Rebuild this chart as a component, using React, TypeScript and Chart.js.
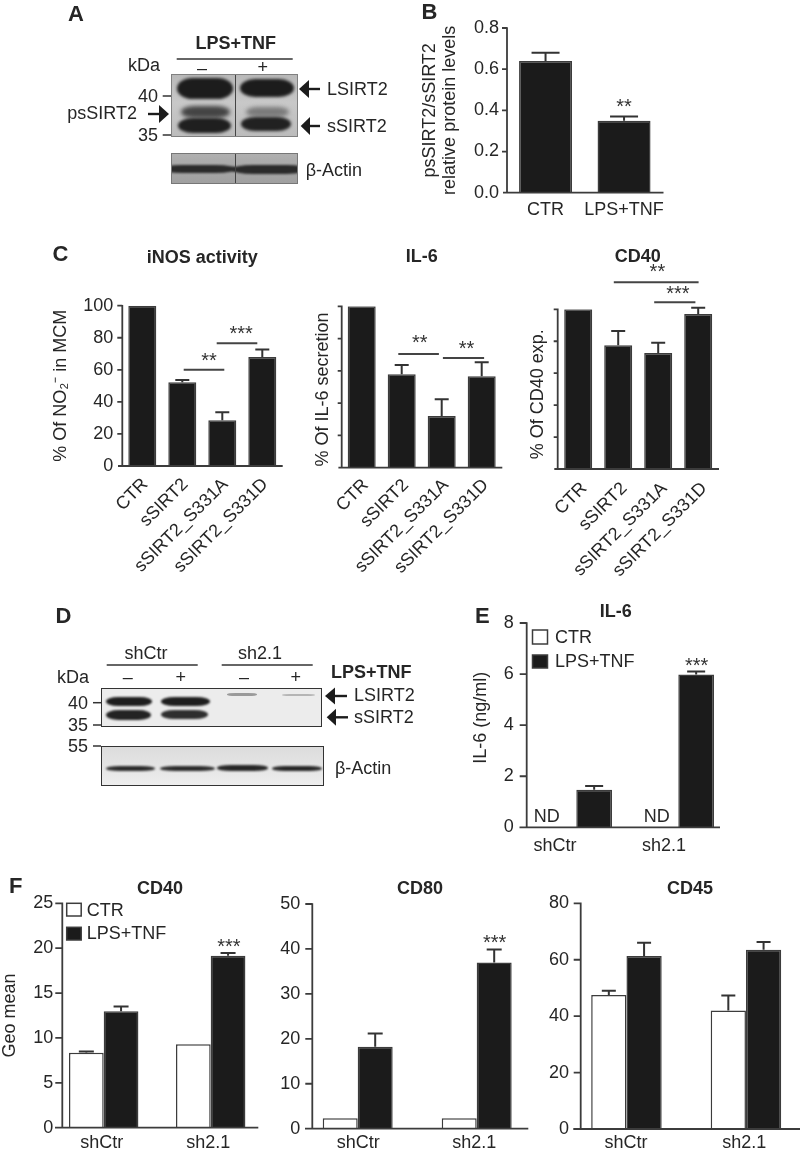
import React, { useEffect, useRef } from "react";
import { Chart, registerables } from "chart.js";

Chart.register(...registerables);

const FONT = '"Liberation Sans", Arial, sans-serif';
const INK = "#262626";
const BAR_DARK = "#1b1b1b";
const EDGE = "#3c3c3c";

// ---------- data ----------
const bCategories = ["CTR", "LPS+TNF"];
const bValues = [0.64, 0.35];
const bErrors = [0.04, 0.02];

const cCategories = ["CTR", "sSIRT2", "sSIRT2_S331A", "sSIRT2_S331D"];
const inosValues = [100, 52.2, 28.5, 68];
const inosErrors = [0, 1.4, 5, 4.6];
const il6PctValues = [100, 57.9, 32, 56.6];
const il6PctErrors = [0, 5.7, 10.4, 8.7];
const cd40PctValues = [100, 77.5, 72.7, 97];
const cd40PctErrors = [0, 8.9, 6.4, 4];

const groupCategories = ["shCtr", "sh2.1"];
const seriesNames = ["CTR", "LPS+TNF"];

const il6CtrValues = [null, null];
const il6LpsValues = [1.47, 5.98];
const il6LpsErrors = [0.15, 0.12];

const cd40CtrValues = [8.36, 9.3];
const cd40CtrErrors = [0.14, 0];
const cd40LpsValues = [12.96, 19.17];
const cd40LpsErrors = [0.55, 0.29];

const cd80CtrValues = [2.3, 2.3];
const cd80CtrErrors = [0, 0];
const cd80LpsValues = [18.25, 37];
const cd80LpsErrors = [2.95, 2.9];

const cd45CtrValues = [47.5, 42];
const cd45CtrErrors = [1.5, 5.3];
const cd45LpsValues = [61.3, 63.5];
const cd45LpsErrors = [4.7, 2.8];

// ---------- panels ----------
type Series = { label: string; values: (number | null)[]; errors: number[]; fill: string };
type Spec = {
  categories: string[];
  series: Series[];
  L: number; R: number; T: number; B: number;
  axisX: number; xStart: number; xEnd: number;
  max: number; step: number; decimals?: number; hideY?: boolean;
  tickLen: number; labelGap: number;
  yTitle: string | string[]; yTitleX: number;
  xPad: number; rotated?: boolean; labelShifts: number[];
  groupPct: number; capWidth: number;
  brackets?: { from: number; to: number; value: number }[];
  stars?: { at: number; value: number; text: string }[];
  notes?: { at: number; value: number; text: string }[];
  legend?: { swatchX: number; swatchW: number; textX: number; rows: { y0: number; y1: number; ty: number }[] };
};

const panelB: Spec = {
  categories: bCategories,
  series: [{ label: "Mean", values: bValues, errors: bErrors, fill: BAR_DARK }],
  L: 506.3, R: 663.3, T: 28, B: 192.7, axisX: 507, xStart: 503, xEnd: 663.5,
  max: 0.8, step: 0.2, decimals: 1, tickLen: 5, labelGap: 8,
  yTitle: ["psSIRT2/sSIRT2", "relative protein levels"], yTitleX: 430,
  xPad: 7, labelShifts: [0, 0], groupPct: 0.675, capWidth: 28,
  stars: [{ at: 1, value: 0.425, text: "**" }],
};
const panelC1: Spec = {
  categories: cCategories,
  series: [{ label: "iNOS activity", values: inosValues, errors: inosErrors, fill: BAR_DARK }],
  L: 122.3, R: 282.3, T: 305.7, B: 466, axisX: 122.3, xStart: 118, xEnd: 282.7,
  max: 100, step: 20, tickLen: 5, labelGap: 9,
  yTitle: "% Of NO₂⁻ in MCM", yTitleX: 60.7,
  xPad: 8, rotated: true, labelShifts: [3, 3, 3, 3], groupPct: 0.7, capWidth: 14,
  brackets: [{ from: 1.035, to: 2.05, value: 60 }, { from: 1.86, to: 2.875, value: 76.5 }],
  stars: [{ at: 1.67, value: 66.7, text: "**" }, { at: 2.47, value: 83.6, text: "***" }],
};
const panelC2: Spec = {
  categories: cCategories,
  series: [{ label: "IL-6", values: il6PctValues, errors: il6PctErrors, fill: BAR_DARK }],
  L: 341.7, R: 501.7, T: 306.3, B: 467.7, axisX: 341.7, xStart: 338.4, xEnd: 502.3,
  max: 100, step: 20, hideY: true, tickLen: 4, labelGap: 9,
  yTitle: "% Of IL-6 secretion\u00A0", yTitleX: 323.3,
  xPad: 7, rotated: true, labelShifts: [4, 4, 4, 4], groupPct: 0.7, capWidth: 14,
  brackets: [{ from: 0.915, to: 1.93, value: 70.5 }, { from: 2.03, to: 3.06, value: 68 }],
  stars: [{ at: 1.45, value: 78.5, text: "**" }, { at: 2.62, value: 75, text: "**" }],
};
const panelC3: Spec = {
  categories: cCategories,
  series: [{ label: "CD40", values: cd40PctValues, errors: cd40PctErrors, fill: BAR_DARK }],
  L: 558.2, R: 718.2, T: 309.3, B: 469, axisX: 557.7, xStart: 554.3, xEnd: 719,
  max: 100, step: 20, hideY: true, tickLen: 4, labelGap: 9,
  yTitle: "% Of CD40 exp.\u00A0\u00A0", yTitleX: 538.3,
  xPad: 9, rotated: true, labelShifts: [6, 6, 6, 6], groupPct: 0.7, capWidth: 14,
  brackets: [{ from: 0.89, to: 3.01, value: 117 }, { from: 1.9, to: 2.93, value: 104.4 }],
  stars: [{ at: 1.98, value: 124.4, text: "**" }, { at: 2.49, value: 110.9, text: "***" }],
};
const panelE: Spec = {
  categories: groupCategories,
  series: [
    { label: seriesNames[0], values: il6CtrValues, errors: [0, 0], fill: "#ffffff" },
    { label: seriesNames[1], values: il6LpsValues, errors: il6LpsErrors, fill: BAR_DARK },
  ],
  L: 525.3, R: 729.3, T: 623, B: 827.3, axisX: 526.7, xStart: 519.5, xEnd: 720,
  max: 8, step: 2, tickLen: 7, labelGap: 13,
  yTitle: "\u00A0\u00A0\u00A0IL-6 (ng/ml)", yTitleX: 480.7,
  xPad: 7.6, labelShifts: [-21.3, -14.3], groupPct: 0.7, capWidth: 18,
  stars: [{ at: 1.18, value: 6.4, text: "***" }],
  notes: [{ at: -0.29, value: 0.4, text: "ND" }, { at: 0.788, value: 0.4, text: "ND" }],
  legend: {
    swatchX: 532.5, swatchW: 15, textX: 555,
    rows: [{ y0: 630, y1: 644, ty: 638 }, { y0: 655, y1: 668, ty: 661.7 }],
  },
};
const panelF1: Spec = {
  categories: groupCategories,
  series: [
    { label: seriesNames[0], values: cd40CtrValues, errors: cd40CtrErrors, fill: "#ffffff" },
    { label: seriesNames[1], values: cd40LpsValues, errors: cd40LpsErrors, fill: BAR_DARK },
  ],
  L: 50.2, R: 264.2, T: 903.3, B: 1127.7, axisX: 62.3, xStart: 55, xEnd: 258.3,
  max: 25, step: 5, tickLen: 7, labelGap: 9,
  yTitle: "Geo mean", yTitleX: 10,
  xPad: 4.8, labelShifts: [-2, -2.4], groupPct: 0.649, capWidth: 15,
  stars: [{ at: 1.17, value: 20.4, text: "***" }],
  legend: {
    swatchX: 66.7, swatchW: 14.5, textX: 86.7,
    rows: [{ y0: 903.3, y1: 916, ty: 910.7 }, { y0: 927.3, y1: 940, ty: 934 }],
  },
};
const panelF2: Spec = {
  categories: groupCategories,
  series: [
    { label: seriesNames[0], values: cd80CtrValues, errors: cd80CtrErrors, fill: "#ffffff" },
    { label: seriesNames[1], values: cd80LpsValues, errors: cd80LpsErrors, fill: BAR_DARK },
  ],
  L: 298.2, R: 536.2, T: 904, B: 1128.7, axisX: 312.3, xStart: 305, xEnd: 528.3,
  max: 50, step: 10, tickLen: 7, labelGap: 12,
  yTitle: "", yTitleX: 0,
  xPad: 3.8, labelShifts: [0.6, -2.4], groupPct: 0.588, capWidth: 15,
  stars: [{ at: 1.15, value: 41.8, text: "***" }],
};
const panelF3: Spec = {
  categories: groupCategories,
  series: [
    { label: seriesNames[0], values: cd45CtrValues, errors: cd45CtrErrors, fill: "#ffffff" },
    { label: seriesNames[1], values: cd45LpsValues, errors: cd45LpsErrors, fill: BAR_DARK },
  ],
  L: 566.7, R: 805.7, T: 903.3, B: 1129, axisX: 580.7, xStart: 573.3, xEnd: 800,
  max: 80, step: 20, tickLen: 7, labelGap: 11.7,
  yTitle: "", yTitleX: 0,
  xPad: 3.5, labelShifts: [-0.5, -1.7], groupPct: 0.59, capWidth: 14,
};

function canvasTopOf(spec: Spec) {
  return Math.floor(spec.T) - 60;
}

function marksPlugin(spec: Spec) {
  return {
    id: "panelMarks",
    afterDatasetsDraw(chart: any) {
      const { ctx, scales } = chart;
      const x = scales.x;
      const y = scales.y;
      const axisX = spec.axisX;
      ctx.save();
      // axes
      ctx.strokeStyle = EDGE;
      ctx.lineWidth = 1.8;
      ctx.beginPath();
      ctx.moveTo(axisX, y.getPixelForValue(spec.max) - 0.8);
      ctx.lineTo(axisX, y.getPixelForValue(0));
      ctx.moveTo(spec.xStart, y.getPixelForValue(0));
      ctx.lineTo(spec.xEnd, y.getPixelForValue(0));
      y.ticks.forEach((t: any) => {
        if (t.value === 0) return;
        const py = y.getPixelForValue(t.value);
        ctx.moveTo(axisX - spec.tickLen, py);
        ctx.lineTo(axisX, py);
      });
      ctx.stroke();
      // error bars
      ctx.lineWidth = 2;
      ctx.strokeStyle = "#333333";
      spec.series.forEach((s, si) => {
        const meta = chart.getDatasetMeta(si);
        s.values.forEach((v, i) => {
          const e = s.errors[i];
          if (v == null || !e) return;
          const px = meta.data[i].x;
          const y0 = y.getPixelForValue(v);
          const y1 = y.getPixelForValue(v + e);
          ctx.beginPath();
          ctx.moveTo(px, y0);
          ctx.lineTo(px, y1);
          ctx.moveTo(px - spec.capWidth / 2, y1);
          ctx.lineTo(px + spec.capWidth / 2, y1);
          ctx.stroke();
        });
      });
      // significance brackets
      ctx.strokeStyle = "#444444";
      (spec.brackets || []).forEach((b) => {
        const py = y.getPixelForValue(b.value);
        ctx.beginPath();
        ctx.moveTo(x.getPixelForValue(b.from), py);
        ctx.lineTo(x.getPixelForValue(b.to), py);
        ctx.stroke();
      });
      // stars
      ctx.fillStyle = "#333333";
      ctx.textAlign = "center";
      ctx.textBaseline = "alphabetic";
      ctx.font = `20px ${FONT}`;
      (spec.stars || []).forEach((s) => {
        ctx.fillText(s.text, x.getPixelForValue(s.at), y.getPixelForValue(s.value) + 8);
      });
      // notes
      ctx.fillStyle = INK;
      ctx.font = `18px ${FONT}`;
      ctx.textBaseline = "middle";
      (spec.notes || []).forEach((n) => {
        ctx.fillText(n.text, x.getPixelForValue(n.at), y.getPixelForValue(n.value));
      });
      // legend (rows given in page coordinates)
      if (spec.legend) {
        const lg = spec.legend;
        const off = canvasTopOf(spec);
        ctx.textAlign = "left";
        spec.series.forEach((s, i) => {
          const r = lg.rows[i];
          ctx.fillStyle = s.fill;
          ctx.fillRect(lg.swatchX, r.y0 - off, lg.swatchW, r.y1 - r.y0);
          ctx.strokeStyle = EDGE;
          ctx.lineWidth = 1.5;
          ctx.strokeRect(lg.swatchX, r.y0 - off, lg.swatchW, r.y1 - r.y0);
          ctx.fillStyle = INK;
          ctx.fillText(s.label, lg.textX, r.ty - off);
        });
      }
      ctx.restore();
    },
  };
}

function BarPanel({ spec }: { spec: Spec }) {
  const ref = useRef<HTMLCanvasElement | null>(null);
  const canvasTop = canvasTopOf(spec);
  const canvasBottom = Math.min(1152, Math.ceil(spec.B) + 130);
  const canvasH = canvasBottom - canvasTop;
  const canvasW = 830;
  useEffect(() => {
    const hasTitle = spec.yTitle !== "";
    const chart = new Chart(ref.current as HTMLCanvasElement, {
      type: "bar",
      data: {
        labels: spec.categories,
        datasets: spec.series.map((s) => ({
          label: s.label,
          data: s.values,
          backgroundColor: s.fill,
          borderColor: EDGE,
          borderWidth: 1.5,
          categoryPercentage: spec.groupPct,
          barPercentage: 1,
        })),
      },
      options: {
        responsive: false,
        animation: false,
        events: [],
        layout: { padding: { left: 0, top: spec.T - canvasTop, right: canvasW - spec.R, bottom: 0 } },
        plugins: { legend: { display: false }, title: { display: false }, tooltip: { enabled: false } },
        scales: {
          x: {
            type: "category",
            offset: true,
            grid: { display: false, drawTicks: false },
            border: { display: false },
            ticks: {
              color: INK,
              font: { family: FONT, size: 18 },
              padding: spec.xPad,
              autoSkip: false,
              maxRotation: spec.rotated ? 45 : 0,
              minRotation: spec.rotated ? 45 : 0,
            },
            afterFit: (sc: any) => {
              sc.height = canvasBottom - canvasTop - (spec.B - canvasTop);
              sc.paddingLeft = 0;
              sc.paddingRight = 0;
              const items = sc._computeLabelItems;
              sc._computeLabelItems = function (area: any) {
                const list = items.call(sc, area);
                list.forEach((it: any, i: number) => {
                  it.options.translation[0] += spec.labelShifts[i] || 0;
                });
                return list;
              };
            },
          },
          y: {
            type: "linear",
            min: 0,
            max: spec.max,
            grid: { display: false, drawTicks: false },
            border: { display: false },
            title: {
              display: hasTitle,
              text: spec.yTitle,
              color: INK,
              font: { family: FONT, size: 18, lineHeight: 1.1 },
              padding: { top: Math.max(0, spec.yTitleX - 10), bottom: 0 },
            },
            ticks: {
              color: INK,
              font: { family: FONT, size: 18 },
              padding: spec.L - spec.axisX + spec.labelGap,
              stepSize: spec.step,
              callback: (v: any) => (spec.hideY ? "" : Number(v).toFixed(spec.decimals || 0)),
            },
            afterFit: (sc: any) => {
              sc.width = spec.L;
              sc.paddingTop = 0;
              sc.paddingBottom = 0;
              sc._computeLabelArea = () => undefined; // tick labels may sit right of the category band
            },
          },
        },
      } as any,
      plugins: [marksPlugin(spec)] as any,
    });
    return () => chart.destroy();
  }, [spec]);
  return (
    <canvas
      ref={ref}
      width={canvasW}
      height={canvasH}
      style={{ position: "absolute", left: 0, top: canvasTop, width: canvasW, height: canvasH }}
    />
  );
}

// ---------- text and blot helpers ----------
function Label({ x, y, text, bold, size = 18, anchor = "left" }: any) {
  const tx = anchor === "center" ? "-50%" : anchor === "right" ? "-100%" : "0";
  return (
    <div
      style={{
        position: "absolute", left: x, top: y, transform: `translate(${tx}, -50%)`,
        font: `${bold ? "bold " : ""}${size}px ${FONT}`, color: INK, whiteSpace: "nowrap", lineHeight: 1,
      }}
    >
      {text}
    </div>
  );
}

function Band({ x0, x1, cy, h, color = "#222", blur = 1.6 }: any) {
  return (
    <div
      style={{
        position: "absolute", left: x0, top: cy - h / 2, width: x1 - x0, height: h,
        background: color, borderRadius: "28% / 50%", filter: `blur(${blur}px)`,
      }}
    />
  );
}

function Blot({ x0, y0, x1, y1, bg, border, children }: any) {
  return (
    <div
      style={{
        position: "absolute", left: x0, top: y0, width: x1 - x0, height: y1 - y0,
        background: bg, boxSizing: "border-box", border, overflow: "hidden",
      }}
    >
      <div style={{ position: "absolute", left: -x0 - 1, top: -y0 - 1 }}>{children}</div>
    </div>
  );
}

function Arrow({ tip, base, tail, y, half }: any) {
  return (
    <>
      <polygon points={`${tip},${y} ${base},${y - half} ${base},${y + half}`} fill="#1c1c1c" />
      <line x1={base} y1={y} x2={tail} y2={y} stroke="#1c1c1c" strokeWidth={2.4} />
    </>
  );
}

function Rule({ x1, x2, y, w = 1.5, color = "#333" }: any) {
  return <line x1={x1} x2={x2} y1={y} y2={y} stroke={color} strokeWidth={w} />;
}

export default function App() {
  return (
    <div
      style={{
        position: "absolute", left: 0, top: 0, width: 800, height: 1152,
        overflow: "hidden", background: "#fff", filter: "blur(0.45px)",
      }}
    >
      {/* Panel A blots */}
      <Blot x0={171} y0={74} x1={298} y1={137} border="1px solid #808080"
        bg="linear-gradient(#b9b9b9,#c8c8c8 45%,#bcbcbc)">
        <Band x0={177} x1={233} cy={88.5} h={21} color="#1c1c1c" />
        <Band x0={240} x1={294} cy={88} h={18} color="#1c1c1c" />
        <Band x0={181} x1={230} cy={112} h={12} color="#444" blur={2} />
        <Band x0={246} x1={289} cy={111.5} h={10} color="#7a7a7a" blur={2.2} />
        <Band x0={178} x1={231} cy={125} h={15} color="#1f1f1f" />
        <Band x0={241} x1={291} cy={123.5} h={14} color="#212121" />
        <div style={{ position: "absolute", left: 234.5, top: 70, width: 1, height: 70, background: "#444" }} />
      </Blot>
      <Blot x0={171} y0={153} x1={298} y1={184} border="1px solid #777"
        bg="linear-gradient(#b0b0b0,#a8a8a8 40%,#a0a0a0)">
        <Band x0={160} x1={237} cy={168.5} h={8} color="#2a2a2a" blur={1.3} />
        <Band x0={232} x1={308} cy={169.5} h={9} color="#2a2a2a" blur={1.3} />
        <div style={{ position: "absolute", left: 234.5, top: 150, width: 1, height: 40, background: "#444" }} />
      </Blot>

      {/* Panel D blots */}
      <Blot x0={101} y0={687.5} x1={322} y1={727} border="1.5px solid #333" bg="#ececec">
        <Band x0={106} x1={152} cy={701.7} h={9.5} color="#1e1e1e" blur={1.1} />
        <Band x0={161} x1={210} cy={701} h={9} color="#1e1e1e" blur={1.1} />
        <Band x0={106} x1={151} cy={715} h={10} color="#232323" blur={1.1} />
        <Band x0={161} x1={208} cy={714} h={9} color="#2e2e2e" blur={1.1} />
        <Band x0={227} x1={257} cy={694.7} h={2.5} color="#9a9a9a" blur={0.7} />
        <Band x0={282} x1={315} cy={695} h={2.5} color="#b5b5b5" blur={0.7} />
      </Blot>
      <Blot x0={101} y0={745.5} x1={324} y1={785.5} border="1.5px solid #333"
        bg="linear-gradient(#dcdcdc,#e6e6e6 60%,#eeeeee)">
        <Band x0={106} x1={155} cy={768.5} h={5} color="#2b2b2b" blur={0.9} />
        <Band x0={160} x1={215} cy={768.5} h={5} color="#2b2b2b" blur={0.9} />
        <Band x0={217} x1={268} cy={768} h={5.5} color="#262626" blur={0.9} />
        <Band x0={272} x1={322} cy={768.5} h={5.5} color="#262626" blur={0.9} />
      </Blot>

      {/* rules and arrows of the blots */}
      <svg width={800} height={1152} style={{ position: "absolute", left: 0, top: 0 }}>
        <Rule x1={176.7} x2={292.7} y={59} />
        <Rule x1={162.7} x2={171} y={96} />
        <Rule x1={162.7} x2={171} y={135} />
        <Arrow tip={169} base={159} tail={148} y={114} half={9} />
        <Arrow tip={299} base={309} tail={320} y={89} half={9} />
        <Arrow tip={300.7} base={310} tail={320} y={126} half={9} />
        <Rule x1={106.7} x2={197.7} y={665} />
        <Rule x1={221.7} x2={312.7} y={665} />
        <Rule x1={93} x2={101} y={702.7} />
        <Rule x1={93} x2={101} y={725} />
        <Rule x1={93} x2={101} y={746} />
        <Arrow tip={325} base={335} tail={347} y={696} half={8.5} />
        <Arrow tip={326.7} base={336} tail={348} y={717.3} half={8.5} />
      </svg>

      {/* charts */}
      <BarPanel spec={panelB} />
      <BarPanel spec={panelC1} />
      <BarPanel spec={panelC2} />
      <BarPanel spec={panelC3} />
      <BarPanel spec={panelE} />
      <BarPanel spec={panelF1} />
      <BarPanel spec={panelF2} />
      <BarPanel spec={panelF3} />

      {/* panel letters */}
      <Label x={68} y={14} text="A" bold size={22} />
      <Label x={421.5} y={12} text="B" bold size={22} />
      <Label x={52.5} y={253.5} text="C" bold size={22} />
      <Label x={55.5} y={616} text="D" bold size={22} />
      <Label x={475} y={616} text="E" bold size={22} />
      <Label x={9} y={886} text="F" bold size={22} />

      {/* panel titles */}
      <Label x={202.3} y={256.7} text="iNOS activity" bold anchor="center" />
      <Label x={421.7} y={256} text="IL-6" bold anchor="center" />
      <Label x={637.7} y={255.7} text="CD40" bold anchor="center" />
      <Label x={615.7} y={610.7} text="IL-6" bold anchor="center" />
      <Label x={160} y={887.7} text="CD40" bold anchor="center" />
      <Label x={420} y={888} text="CD80" bold anchor="center" />
      <Label x={690} y={888} text="CD45" bold anchor="center" />

      {/* panel A text */}
      <Label x={235.7} y={43} text="LPS+TNF" bold anchor="center" />
      <Label x={128} y={65} text="kDa" />
      <Label x={202} y={68} text="–" anchor="center" />
      <Label x={262.7} y={67} text="+" anchor="center" />
      <Label x={158} y={96} text="40" anchor="right" />
      <Label x={158} y={135} text="35" anchor="right" />
      <Label x={67.3} y={113} text="psSIRT2" />
      <Label x={327} y={89} text="LSIRT2" />
      <Label x={327} y={126} text="sSIRT2" />
      <Label x={305.7} y={170} text="β-Actin" />

      {/* panel D text */}
      <Label x={146} y={653} text="shCtr" anchor="center" />
      <Label x={260} y={653} text="sh2.1" anchor="center" />
      <Label x={331} y={672} text="LPS+TNF" bold />
      <Label x={57} y={677} text="kDa" />
      <Label x={127.7} y={677} text="–" anchor="center" />
      <Label x={180.7} y={677} text="+" anchor="center" />
      <Label x={244} y={677} text="–" anchor="center" />
      <Label x={295.7} y={677} text="+" anchor="center" />
      <Label x={88} y={703} text="40" anchor="right" />
      <Label x={88} y={725} text="35" anchor="right" />
      <Label x={88} y={746} text="55" anchor="right" />
      <Label x={354} y={695} text="LSIRT2" />
      <Label x={354} y={717} text="sSIRT2" />
      <Label x={335} y={768} text="β-Actin" />
    </div>
  );
}
